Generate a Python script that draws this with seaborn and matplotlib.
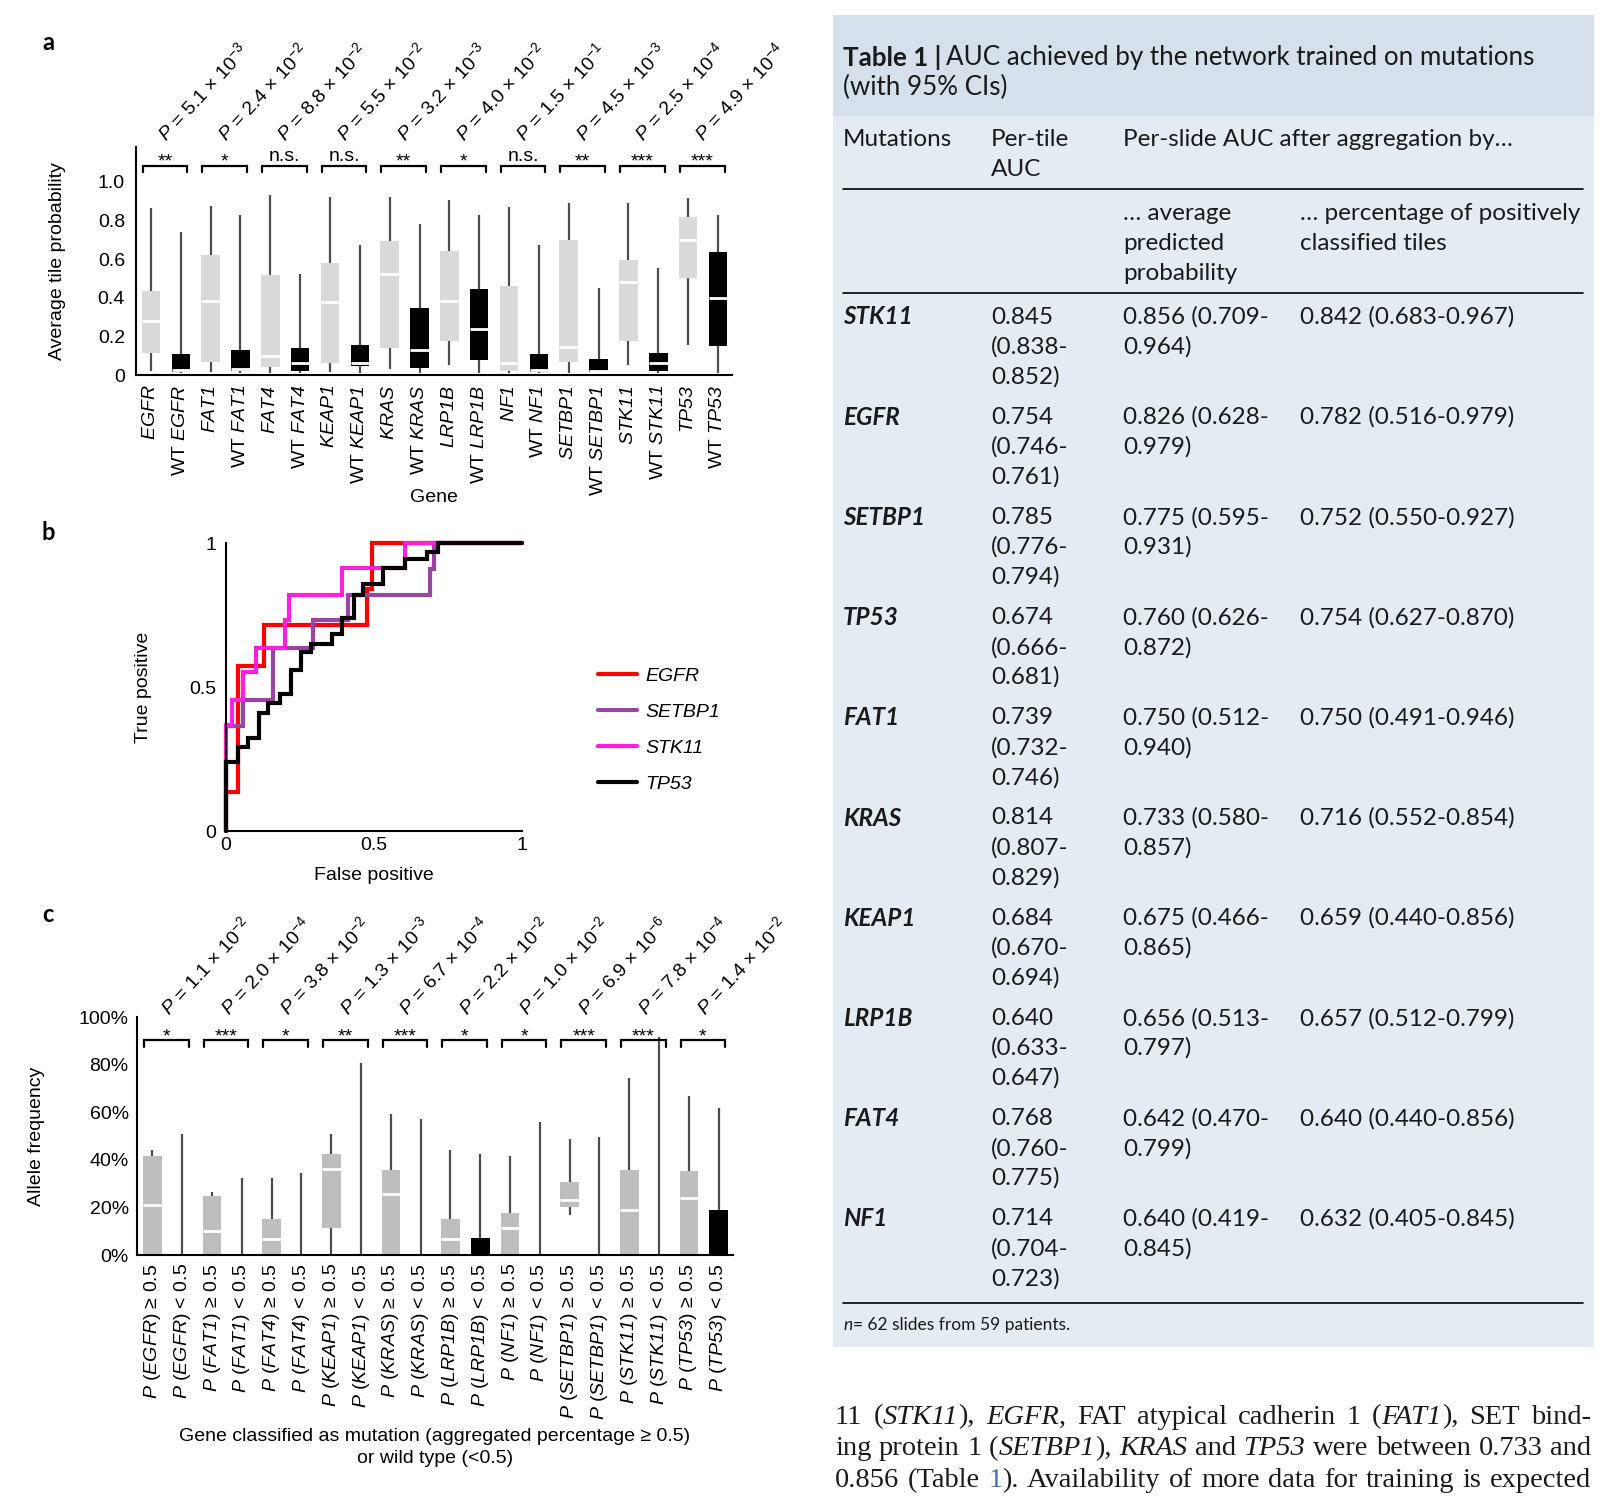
import numpy as np
import pandas as pd
import seaborn as sns
import matplotlib.pyplot as plt
from matplotlib.lines import Line2D
from matplotlib.patches import Rectangle

W, H = 1612, 1502

genes = ['EGFR', 'FAT1', 'FAT4', 'KEAP1', 'KRAS', 'LRP1B', 'NF1', 'SETBP1', 'STK11', 'TP53']

# panel a: average tile probability, (min, q1, median, q3, max) per gene
tile_prob_mut = [
    (0.022, 0.112, 0.279, 0.434, 0.866),
    (0.017, 0.069, 0.384, 0.619, 0.876),
    (0.010, 0.040, 0.100, 0.516, 0.933),
    (0.017, 0.064, 0.376, 0.578, 0.922),
    (0.031, 0.138, 0.522, 0.693, 0.922),
    (0.052, 0.176, 0.384, 0.641, 0.905),
    (0.010, 0.022, 0.060, 0.460, 0.867),
    (0.008, 0.069, 0.147, 0.698, 0.888),
    (0.052, 0.176, 0.479, 0.595, 0.888),
    (0.155, 0.500, 0.698, 0.816, 0.914),
]
tile_prob_wt = [
    (0.008, 0.017, 0.026, 0.109, 0.740),
    (0.008, 0.022, 0.031, 0.129, 0.828),
    (0.008, 0.022, 0.060, 0.138, 0.521),
    (0.008, 0.047, 0.060, 0.155, 0.672),
    (0.008, 0.038, 0.129, 0.345, 0.781),
    (0.008, 0.078, 0.238, 0.445, 0.828),
    (0.008, 0.017, 0.026, 0.109, 0.672),
    (0.008, 0.017, 0.022, 0.081, 0.452),
    (0.008, 0.022, 0.060, 0.116, 0.552),
    (0.008, 0.150, 0.397, 0.638, 0.828),
]
p_a_mant = [5.1, 2.4, 8.8, 5.5, 3.2, 4.0, 1.5, 4.5, 2.5, 4.9]
p_a_exp = [-3, -2, -2, -2, -3, -2, -1, -3, -4, -4]
sig_a = ['**', '*', 'n.s.', 'n.s.', '**', '*', 'n.s.', '**', '***', '***']

# panel b: ROC curves (step corners)
egfr_fpr = [0.0, 0.0, 0.039, 0.130, 0.475, 0.492, 1.0]
egfr_tpr = [0.0, 0.137, 0.574, 0.716, 0.840, 1.0, 1.0]
setbp1_fpr = [0.0, 0.0, 0.058, 0.158, 0.294, 0.412, 0.690, 0.703, 1.0]
setbp1_tpr = [0.0, 0.363, 0.455, 0.635, 0.733, 0.818, 0.910, 1.0, 1.0]
stk11_fpr = [0.0, 0.0, 0.019, 0.058, 0.101, 0.198, 0.214, 0.392, 0.606, 1.0]
stk11_tpr = [0.0, 0.368, 0.456, 0.551, 0.635, 0.733, 0.818, 0.913, 1.0, 1.0]
tp53_fpr = [0.0, 0.0, 0.039, 0.075, 0.110, 0.142, 0.181, 0.218, 0.253, 0.288,
            0.359, 0.392, 0.431, 0.464, 0.531, 0.606, 0.680, 0.716, 1.0]
tp53_tpr = [0.0, 0.238, 0.290, 0.322, 0.408, 0.443, 0.476, 0.560, 0.620, 0.650,
            0.684, 0.739, 0.820, 0.856, 0.913, 0.945, 0.969, 1.0, 1.0]
roc_genes = ['EGFR', 'SETBP1', 'STK11', 'TP53']
roc_colors = ['#ff0000', '#9a45a3', '#ff1fdc', '#000000']

# panel c: allele frequency (%), (min, q1, median, q3, max)
af_mut = [
    (0, 0, 20.8, 41.7, 44.2),
    (0, 0, 10.1, 24.8, 26.4),
    (0, 0, 6.7, 15.1, 32.3),
    (0, 11.5, 36.3, 42.5, 50.8),
    (0, 0, 25.7, 35.8, 59.2),
    (0, 0, 6.7, 15.1, 44.2),
    (0, 0, 11.5, 17.5, 41.7),
    (16.8, 20.1, 22.9, 30.6, 48.8),
    (0, 0, 18.7, 35.8, 74.3),
    (0, 0, 24.1, 35.3, 66.9),
]
af_wt = [
    (0, 0, 0, 0, 50.8),
    (0, 0, 0, 0, 32.3),
    (0, 0, 0, 0, 34.4),
    (0, 0, 0, 0, 80.6),
    (0, 0, 0, 0, 57.1),
    (0, 0, 0, 7.0, 42.5),
    (0, 0, 0, 0, 55.8),
    (0, 0, 0, 0, 49.5),
    (0, 0, 0, 0, 91.4),
    (0, 0, 0, 18.9, 61.7),
]
p_c_mant = [1.1, 2.0, 3.8, 1.3, 6.7, 2.2, 1.0, 6.9, 7.8, 1.4]
p_c_exp = [-2, -4, -2, -3, -4, -2, -2, -6, -4, -2]
sig_c = ['*', '***', '*', '**', '***', '*', '*', '***', '***', '*']

# table 1
table_genes = ['STK11', 'EGFR', 'SETBP1', 'TP53', 'FAT1', 'KRAS', 'KEAP1', 'LRP1B', 'FAT4', 'NF1']
auc_tile = [(0.845, 0.838, 0.852), (0.754, 0.746, 0.761), (0.785, 0.776, 0.794),
            (0.674, 0.666, 0.681), (0.739, 0.732, 0.746), (0.814, 0.807, 0.829),
            (0.684, 0.670, 0.694), (0.640, 0.633, 0.647), (0.768, 0.760, 0.775),
            (0.714, 0.704, 0.723)]
auc_avg = [(0.856, 0.709, 0.964), (0.826, 0.628, 0.979), (0.775, 0.595, 0.931),
           (0.760, 0.626, 0.872), (0.750, 0.512, 0.940), (0.733, 0.580, 0.857),
           (0.675, 0.466, 0.865), (0.656, 0.513, 0.797), (0.642, 0.470, 0.799),
           (0.640, 0.419, 0.845)]
auc_pct = [(0.842, 0.683, 0.967), (0.782, 0.516, 0.979), (0.752, 0.550, 0.927),
           (0.754, 0.627, 0.870), (0.750, 0.491, 0.946), (0.716, 0.552, 0.854),
           (0.659, 0.440, 0.856), (0.657, 0.512, 0.799), (0.640, 0.440, 0.856),
           (0.632, 0.405, 0.845)]

# body text; |...| marks italic, #...# marks the blue table link
para_lines = [
    ['11', '(|STK11|),', '|EGFR|,', 'FAT', 'atypical', 'cadherin', '1', '(|FAT1|),', 'SET', 'bind-'],
    ['ing', 'protein', '1', '(|SETBP1|),', '|KRAS|', 'and', '|TP53|', 'were', 'between', '0.733', 'and'],
    ['0.856', '(Table', '#1#).', 'Availability', 'of', 'more', 'data', 'for', 'training', 'is', 'expected'],
]

sns.set_style('white')
plt.rcParams['font.family'] = ['Liberation Sans', 'DejaVu Sans']
plt.rcParams['mathtext.fontset'] = 'custom'
# digits inside \mathit fall back to the rm font, so make rm italic too
plt.rcParams['mathtext.rm'] = 'Liberation Sans:italic'
plt.rcParams['mathtext.it'] = 'Liberation Sans:italic'
plt.rcParams['mathtext.bf'] = 'Liberation Sans:bold'
for k in ['text.color', 'axes.labelcolor', 'xtick.color', 'ytick.color', 'axes.edgecolor']:
    plt.rcParams[k] = 'black'
plt.rcParams['axes.linewidth'] = 1.5

fig = plt.figure(figsize=(W / 100, H / 100), dpi=100)
renderer = fig.canvas.get_renderer()


def px_axes(left, top, right, bottom):
    return fig.add_axes([left / W, 1 - bottom / H, (right - left) / W, (bottom - top) / H])


def box_frame(mut, wt, mut_label, wt_label):
    rows = []
    for g, m, w in zip(genes, mut, wt):
        rows += [(mut_label(g), v, 'mut') for v in m]
        rows += [(wt_label(g), v, 'wt') for v in w]
    return pd.DataFrame(rows, columns=['label', 'value', 'group'])


def draw_boxes(ax, df, light):
    order = list(dict.fromkeys(df['label']))
    sns.boxplot(data=df, x='label', y='value', hue='group', order=order,
                palette={'mut': light, 'wt': 'black'}, dodge=False, width=0.62,
                whis=(0, 100), saturation=1, showfliers=False, showcaps=False,
                legend=False, ax=ax,
                boxprops=dict(edgecolor='none', linewidth=0),
                whiskerprops=dict(color='#4d4d4d', linewidth=1.6),
                medianprops=dict(color='white', linewidth=2))
    ax.set_xticks(range(len(order)))
    ax.set_xticklabels(order, rotation=90, fontsize=14)
    ax.tick_params(length=0)
    sns.despine(ax=ax)
    for s in ax.spines.values():
        s.set_zorder(10)


def draw_brackets(ax, sig, mant, expo, y_br, y_tick, y_ns, y_star, x_p, y_p):
    for k in range(len(sig)):
        x0, x1 = 2 * k - 0.28, 2 * k + 1.22
        ax.plot([x0, x0, x1, x1], [y_tick, y_br, y_br, y_tick], color='black', lw=1.6,
                clip_on=False, solid_joinstyle='miter')
        ax.text(2 * k + 0.47, y_ns if sig[k] == 'n.s.' else y_star, sig[k], ha='center',
                va='baseline', fontsize=14, clip_on=False)
        ax.text(2 * k + x_p, y_p,
                rf'$\mathit{{P}}$ = {mant[k]:.1f} × 10$^{{\mathregular{{{expo[k]}}}}}$',
                rotation=47, rotation_mode='anchor', ha='left', va='baseline', fontsize=14)


# ---- panel a
ax_a = px_axes(136, 147, 732, 375)
df_a = box_frame(tile_prob_mut, tile_prob_wt,
                 lambda g: rf'$\mathit{{{g}}}$', lambda g: rf'WT $\mathit{{{g}}}$')
draw_boxes(ax_a, df_a, '#d9d9d9')
ax_a.set_xlim(-0.5, 19.47)
ax_a.set_ylim(0, 1.18)
ax_a.set_yticks([0, 0.2, 0.4, 0.6, 0.8, 1.0])
ax_a.set_yticklabels(['0', '0.2', '0.4', '0.6', '0.8', '1.0'], fontsize=14)
ax_a.tick_params(axis='y', pad=8)
ax_a.tick_params(axis='x', pad=7)
ax_a.set_xlabel('Gene', fontsize=14)
ax_a.set_ylabel('Average tile probability', fontsize=14)
ax_a.xaxis.set_label_coords(0.5, -0.5)
ax_a.yaxis.set_label_coords(-0.117, 0.5)
draw_brackets(ax_a, sig_a, p_a_mant, p_a_exp, 1.083, 1.05, 1.107, 1.077, 0.5, 1.205)

# ---- panel b
ax_b = px_axes(226, 543, 522, 831)
roc_rows = []
for g, fpr, tpr in zip(roc_genes, [egfr_fpr, setbp1_fpr, stk11_fpr, tp53_fpr],
                       [egfr_tpr, setbp1_tpr, stk11_tpr, tp53_tpr]):
    roc_rows += [(g, a, b) for a, b in zip(fpr, tpr)]
roc = pd.DataFrame(roc_rows, columns=['gene', 'fpr', 'tpr'])
sns.lineplot(data=roc, x='fpr', y='tpr', hue='gene', hue_order=roc_genes,
             palette=dict(zip(roc_genes, roc_colors)), estimator=None, sort=False,
             drawstyle='steps-post', linewidth=3, legend=False, ax=ax_b)
for ln in ax_b.lines:
    ln.set_clip_on(False)
    ln.set_solid_joinstyle('miter')
ax_b.set_xlim(0, 1)
ax_b.set_ylim(0, 1)
ax_b.set_xticks([0, 0.5, 1])
ax_b.set_xticklabels(['0', '0.5', '1'], fontsize=14)
ax_b.set_yticks([0, 0.5, 1])
ax_b.set_yticklabels(['0', '0.5', '1'], fontsize=14)
ax_b.tick_params(length=0)
ax_b.tick_params(axis='y', pad=7)
ax_b.tick_params(axis='x', pad=4)
sns.despine(ax=ax_b)
ax_b.set_xlabel('False positive', fontsize=14)
ax_b.set_ylabel('True positive', fontsize=14)
ax_b.xaxis.set_label_coords(0.5, -0.125)
ax_b.yaxis.set_label_coords(-0.25, 0.5)
handles = [Line2D([0], [0], color=c, lw=3) for c in roc_colors]
ax_b.legend(handles, roc_genes, loc='upper left', bbox_to_anchor=(598 / W, 1 - 667 / H),
            bbox_transform=fig.transFigure, frameon=False, borderpad=0, borderaxespad=0,
            handlelength=2.0, handletextpad=0.45, labelspacing=0.95,
            prop=dict(family='Liberation Sans', style='italic', size=14))

# ---- panel c
ax_c = px_axes(137, 1017, 733, 1255)
df_c = box_frame(af_mut, af_wt,
                 lambda g: rf'$\mathit{{P}}$ ($\mathit{{{g}}}$) ≥ 0.5',
                 lambda g: rf'$\mathit{{P}}$ ($\mathit{{{g}}}$) < 0.5')
draw_boxes(ax_c, df_c, '#bebebe')
ax_c.set_xlim(-0.52, 19.48)
ax_c.set_ylim(0, 100)
ax_c.set_yticks([0, 20, 40, 60, 80, 100])
ax_c.set_yticklabels([f'{v}%' for v in range(0, 101, 20)], fontsize=14)
ax_c.tick_params(axis='y', pad=6)
ax_c.tick_params(axis='x', pad=6)
ax_c.set_xlabel('Gene classified as mutation (aggregated percentage ≥ 0.5)\nor wild type (<0.5)',
                fontsize=14, linespacing=1.4)
ax_c.set_ylabel('Allele frequency', fontsize=14)
ax_c.xaxis.set_label_coords(0.5, -0.727)
ax_c.yaxis.set_label_coords(-0.154, 0.5)
draw_brackets(ax_c, sig_c, p_c_mant, p_c_exp, 90.2, 87.6, 90.5, 89.9, 0.55, 100.3)

# panel letters
for letter, y in [('a', 43), ('b', 532), ('c', 915)]:
    fig.text(48 / W, 1 - y / H, letter, fontsize=17, fontweight='bold', family='Lato',
             ha='center', va='center')

# ---- table 1
TXT = '#1a1a1a'
BODY = 17.5
fig.patches.append(Rectangle((833 / W, 1 - 116 / H), (1594 - 833) / W, 101 / H,
                             transform=fig.transFigure, facecolor='#d6e0ea', edgecolor='none'))
fig.patches.append(Rectangle((833 / W, 1 - 1347 / H), (1594 - 833) / W, (1347 - 116) / H,
                             transform=fig.transFigure, facecolor='#e5ebf2', edgecolor='none'))


def ftext(x, y, s, **kw):
    kw.setdefault('family', 'Lato')
    kw.setdefault('color', TXT)
    kw.setdefault('va', 'center')
    kw.setdefault('fontsize', BODY)
    return fig.text(x / W, 1 - y / H, s, **kw)


def hrule(y, x0=843, x1=1583):
    fig.add_artist(Line2D([x0 / W, x1 / W], [1 - y / H, 1 - y / H], color='black', lw=1.2,
                          transform=fig.transFigure))


t = ftext(843, 57, 'Table 1 |', fontsize=18.7, fontweight='bold')
x_after = 843 + t.get_window_extent(renderer).width + 5
ftext(x_after, 57, 'AUC achieved by the network trained on mutations', fontsize=18.7)
ftext(843, 87, '(with 95% CIs)', fontsize=18.7)

ftext(843, 139, 'Mutations')
ftext(991, 139, 'Per-tile')
ftext(991, 170, 'AUC')
ftext(1123, 139, 'Per-slide AUC after aggregation by…')
hrule(189)
for i, s in enumerate(['… average', 'predicted', 'probability']):
    ftext(1123, 214 + i * 29.8, s)
for i, s in enumerate(['… percentage of positively', 'classified tiles']):
    ftext(1300, 214 + i * 29.8, s)
hrule(293)

for r, g in enumerate(table_genes):
    y0 = 317 + r * 100.2
    ftext(843, y0, g, fontweight='bold', style='italic')
    a, lo, hi = auc_tile[r]
    for i, s in enumerate([f'{a:.3f}', f'({lo:.3f}-', f'{hi:.3f})']):
        ftext(991, y0 + i * 29.8, s)
    a, lo, hi = auc_avg[r]
    for i, s in enumerate([f'{a:.3f} ({lo:.3f}-', f'{hi:.3f})']):
        ftext(1123, y0 + i * 29.8, s)
    a, lo, hi = auc_pct[r]
    ftext(1300, y0, f'{a:.3f} ({lo:.3f}-{hi:.3f})')
hrule(1303)

t = ftext(843, 1325, 'n', fontsize=12.5, style='italic')
x_after = 843 + t.get_window_extent(renderer).width + 1
ftext(x_after, 1325, '= 62 slides from 59 patients.', fontsize=12.5)


# ---- body text below the table (justified, word by word)
def word_pieces(word):
    pieces, italic, link, buf = [], False, False, ''
    for ch in word:
        if ch in '|#':
            if buf:
                pieces.append((buf, italic, link))
            buf = ''
            if ch == '|':
                italic = not italic
            else:
                link = not link
        else:
            buf += ch
    if buf:
        pieces.append((buf, italic, link))
    return pieces


for i, words in enumerate(para_lines):
    y = 1417 + i * 31.7
    word_texts, widths = [], []
    for w in words:
        parts = []
        for s, italic, link in word_pieces(w):
            parts.append(fig.text(0, 1 - y / H, s, family='Liberation Serif', fontsize=20.5,
                                  style='italic' if italic else 'normal', va='center',
                                  color='#4a6fa5' if link else '#1a1a1a'))
        word_texts.append(parts)
        widths.append([p.get_window_extent(renderer).width for p in parts])
    total = sum(sum(w) for w in widths)
    gap = max((1591 - 835 - total) / (len(words) - 1), 4)
    x = 835
    for parts, ws in zip(word_texts, widths):
        for p, wp in zip(parts, ws):
            p.set_x(x / W)
            x += wp
        x += gap

fig.savefig('out.png', dpi=100)
